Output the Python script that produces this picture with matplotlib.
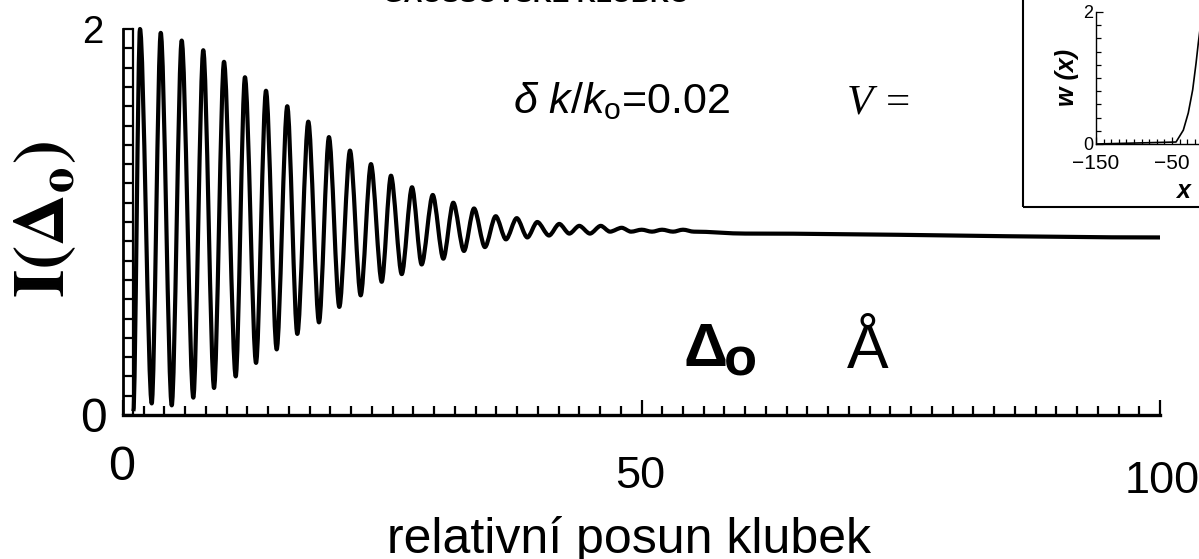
import matplotlib
matplotlib.use('Agg')
import numpy as np
import matplotlib.pyplot as plt
import matplotlib.transforms as mtransforms
from matplotlib.ticker import MultipleLocator, FixedLocator
from matplotlib.patches import Rectangle, PathPatch
from matplotlib.path import Path

plt.rcParams['font.family'] = ['Liberation Sans', 'DejaVu Sans']
plt.rcParams['mathtext.fontset'] = 'custom'
plt.rcParams['mathtext.rm'] = 'Liberation Sans'
plt.rcParams['mathtext.it'] = 'Liberation Sans:italic'
plt.rcParams['mathtext.bf'] = 'Liberation Sans:bold'

# ---------------- data ----------------
title = 'GAUSSOVSKÉ KLUBKO'
x_label = 'relativní posun klubek'
y_label = r'$\mathbf{I(\Delta_{o})}$'

# main curve: maxima and minima of I(Δo) versus relative shift
start_shift = [1.0]
start_intensity = [0.02]
peak_shift = [1.64, 3.64, 5.66, 7.74, 9.74, 11.76, 13.79, 15.84, 17.87, 19.86,
              21.89, 23.91, 25.84, 27.87, 29.87, 31.85, 33.85, 35.94, 37.97, 39.95,
              42.07, 44.0, 46.07, 48.09, 50.02, 51.98, 54.0]
peak_intensity = [2.00, 1.98, 1.94, 1.89, 1.83, 1.75, 1.68, 1.60, 1.52, 1.44,
                  1.37, 1.30, 1.24, 1.18, 1.14, 1.10, 1.07, 1.03, 1.02, 1.00,
                  0.99, 0.98, 0.98, 0.97, 0.96, 0.96, 0.96]
trough_shift = [2.77, 4.70, 6.78, 8.78, 10.87, 12.83, 14.82, 16.81, 18.90, 20.86,
                22.92, 24.95, 26.88, 28.80, 30.89, 32.88, 34.90, 36.93, 38.99, 41.08,
                43.04, 45.03, 46.96, 48.99, 51.01, 53.04, 55.06]
trough_intensity = [0.06, 0.05, 0.09, 0.14, 0.20, 0.27, 0.34, 0.42, 0.48, 0.56,
                    0.62, 0.69, 0.73, 0.78, 0.81, 0.85, 0.87, 0.91, 0.92, 0.93,
                    0.94, 0.94, 0.95, 0.95, 0.95, 0.95, 0.95]
tail_shift = [60, 100]
tail_intensity = [0.94, 0.92]

x_ticks = [0, 50, 100]
x_tick_labels = ['0', '50', '100']
y_ticks = [0, 2]
y_tick_labels = ['0', '2']

# inset: w(x)
inset_x = [-150, -44.7, -35.1, -28.6, -22.8, -18.4, -15.4, -13.0]
inset_w = [0.0, 0.03, 0.21, 0.47, 0.82, 1.22, 1.53, 1.75]
inset_x_ticks = [-150, -50, 50, 150]
inset_y_ticks = [0, 2]

param_text = r'$\delta\ k/k_{\mathrm{o}}$=0.02'
v_text = 'V ='

# ---------------- figure ----------------
W, H = 1199, 559
fig = plt.figure(figsize=(W / 100, H / 100), dpi=100)
fig.patch.set_facecolor('white')


def fx(px):
    return px / W


def fy(py):
    return 1 - py / H


def smooth_path(xs, ys, k=0.3):
    """Cubic Bezier path through the given points with flat tangents at each point."""
    verts = [(xs[0], ys[0])]
    codes = [Path.MOVETO]
    for i in range(len(xs) - 1):
        dx = xs[i + 1] - xs[i]
        verts += [(xs[i] + k * dx, ys[i]), (xs[i + 1] - k * dx, ys[i + 1]),
                  (xs[i + 1], ys[i + 1])]
        codes += [Path.CURVE4] * 3
    return Path(verts, codes)


ax = fig.add_axes([fx(123), fy(415), (1160 - 123) / W, (415 - 29) / H])
shift = np.concatenate([start_shift,
                        np.column_stack([peak_shift, trough_shift]).ravel(),
                        tail_shift])
intensity = np.concatenate([start_intensity,
                            np.column_stack([peak_intensity, trough_intensity]).ravel(),
                            tail_intensity])
curve = PathPatch(smooth_path(shift, intensity), transform=ax.transData,
                  fill=False, ec='black', lw=3.0, joinstyle='round', clip_on=False)
ax.add_patch(curve)
ax.set_xlim(0, 100)
ax.set_ylim(0, 2)
for s in ['top', 'right']:
    ax.spines[s].set_visible(False)
ax.spines['left'].set_linewidth(2.0)
ax.spines['bottom'].set_linewidth(2.4)
ax.xaxis.set_major_locator(FixedLocator(x_ticks))
ax.xaxis.set_minor_locator(MultipleLocator(2))
ax.yaxis.set_major_locator(MultipleLocator(0.1))
ax.tick_params(axis='x', which='major', direction='in', length=11, width=1.6,
               labelbottom=False)
ax.tick_params(axis='x', which='minor', direction='in', length=6.5, width=1.6)
ax.tick_params(axis='y', which='major', direction='in', length=7.5, width=1.6,
               labelleft=False)
# second (inner) line of the ladder-like y axis
ladder = mtransforms.offset_copy(ax.transAxes, fig=fig, x=10, y=0, units='dots')
ax.plot([0, 0], [0, 1], transform=ladder, color='black', lw=1.6, clip_on=False)

# tick labels (placed individually, as in the pasted picture)
ylab_style = {'0': (34.5, -11.5, -12.2), '2': (27.6, -14.4, -10.0)}
for val, lab in zip(y_ticks, y_tick_labels):
    fs, dx, dy = ylab_style[lab]
    ax.annotate(lab, xy=(0, val), xycoords=('axes fraction', 'data'),
                xytext=(dx, dy), textcoords='offset points',
                ha='right', va='baseline', fontsize=fs, annotation_clip=False)
xlab_style = {'0': (35, -0.7, -46.8), '50': (32.5, -1.0, -52.6), '100': (32.5, 1.4, -56.2)}
for val, lab in zip(x_ticks, x_tick_labels):
    fs, dx, dy = xlab_style[lab]
    ax.annotate(lab, xy=(val, 0), xycoords=('data', 'axes fraction'),
                xytext=(dx, dy), textcoords='offset points',
                ha='center', va='baseline', fontsize=fs, annotation_clip=False)

fig.text(fx(45), fy(220), y_label, math_fontfamily='stix', rotation=90,
         fontsize=52, ha='center', va='center')
fig.text(fx(629), fy(553), x_label, fontsize=36, ha='center', va='baseline')
fig.text(fx(536), fy(2.5), title, fontsize=19, weight='bold', ha='center', va='baseline')
fig.text(fx(513), fy(113), param_text, fontsize=31, ha='left', va='baseline')
fig.text(fx(847), fy(113), v_text, family='Liberation Serif', style='italic',
         fontsize=31, ha='left', va='baseline')
fig.text(fx(683), fy(366), 'Δ', fontsize=44, weight='bold', ha='left', va='baseline')
fig.text(fx(724), fy(376), 'o', fontsize=39, weight='bold', ha='left', va='baseline')
fig.text(fx(847), fy(368), 'Å', fontsize=45, ha='left', va='baseline')

# ---------------- inset ----------------
fig.add_artist(Rectangle((fx(1023), fy(207)), 0.3, 0.5, transform=fig.transFigure,
                         fill=False, ec='black', lw=1.5))
axi = fig.add_axes([fx(1096), fy(144), 228 / W, 132 / H])
axi.plot(inset_x, inset_w, color='black', lw=1.2)
axi.set_xlim(-150, 150)
axi.set_ylim(0, 2)
for s in ['top', 'right']:
    axi.spines[s].set_visible(False)
for s in ['left', 'bottom']:
    axi.spines[s].set_linewidth(1.0)
axi.xaxis.set_major_locator(FixedLocator(inset_x_ticks))
axi.xaxis.set_minor_locator(MultipleLocator(10))
axi.yaxis.set_major_locator(FixedLocator(inset_y_ticks))
axi.yaxis.set_minor_locator(MultipleLocator(0.2))
axi.tick_params(axis='both', which='major', direction='in', length=5, width=0.9)
axi.tick_params(axis='both', which='minor', direction='in', length=3.5, width=0.9)
axi.tick_params(axis='x', which='major', labelsize=15, pad=7)
axi.tick_params(axis='y', which='major', labelsize=13, pad=2)
fig.text(fx(1067), fy(77), 'w (x)', rotation=90, fontsize=18, weight='bold',
         style='italic', ha='center', va='center')
fig.text(fx(1183), fy(191), 'x', fontsize=18, weight='bold', style='italic',
         ha='center', va='center')

fig.savefig('out.png', dpi=100)
